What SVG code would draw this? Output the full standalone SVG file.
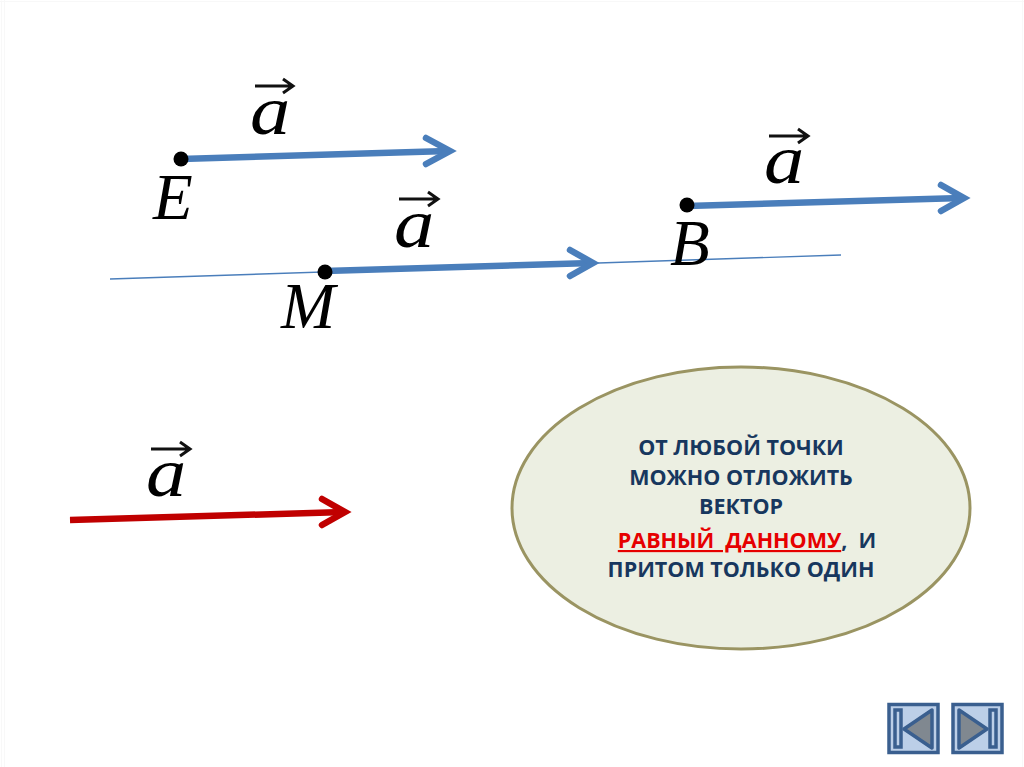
<svg xmlns="http://www.w3.org/2000/svg" width="1024" height="767" viewBox="0 0 1024 767">
<style>
.m{font-family:"Liberation Serif",serif;font-style:italic;fill:#000}
.a{font-size:70px}
.p{font-size:65px}
.v{fill:none;stroke:#4a7ebb;stroke-width:6.5}
.h{fill:none;stroke:#4a7ebb;stroke-width:6.5;stroke-linecap:round}
.r{fill:none;stroke:#c00000;stroke-width:6.5;stroke-linecap:round}
.t{font-family:"Open Sans","Noto Sans",sans-serif;font-weight:700;font-size:21.5px;fill:#17375e;text-anchor:middle}
.b{fill:#bccfe8;stroke:#3a5f8f;stroke-width:3.5}
.g{fill:#808890;stroke:#3a5f8f;stroke-width:3.5;stroke-linejoin:round}
.k{fill:none;stroke:#111;stroke-width:3}
</style>
<rect width="1024" height="767" fill="#fff"/>
<path d="M1.500 .5V767M4.500 0V767M0 1.500H1024M1022.500 0V767" stroke="#f8f8f8" fill="none"/>
<g id="connectors">
<line x1="110" y1="279" x2="841" y2="255" stroke="#4a7ebb" stroke-width="1.400"/>
<line x1="181" y1="159" x2="448" y2="151" class="v"/>
<path d="M426 138L450 151L426 164" class="h"/>
<line x1="325" y1="271" x2="592" y2="263" class="v"/>
<path d="M570 250L593 263L570 276" class="h"/>
<line x1="687" y1="206" x2="962" y2="198" class="v"/>
<path d="M941 185L964 198L941 211" class="h"/>
<line x1="70" y1="520" x2="344" y2="512" class="v" style="stroke:#c00000"/>
<path d="M322 499L345 512L322 525" class="r"/>
</g>
<g id="point-E"><circle cx="181" cy="159" r="7.500"/><text class="m p" x="153" y="219">E</text></g>
<g id="point-M"><circle cx="325" cy="272" r="7.500"/><text class="m p" x="281" y="328">M</text></g>
<g id="point-B"><circle cx="687" cy="205" r="7.500"/><text class="m p" x="670" y="265">B</text></g>
<g id="label-a1"><text class="m a" transform="translate(250 134) scale(1.150 1)">a</text><path class="k" d="M255 86H293M283 79L293 86L283 93"/></g>
<g id="label-a2"><text class="m a" transform="translate(394 247) scale(1.150 1)">a</text><path class="k" d="M399 199H438M428 192L438 199L428 206"/></g>
<g id="label-a3"><text class="m a" transform="translate(764 183) scale(1.150 1)">a</text><path class="k" d="M769 136H808M798 129L808 136L798 143"/></g>
<g id="label-a4"><text class="m a" transform="translate(146 496) scale(1.150 1)">a</text><path class="k" d="M151 449H190M180 442L190 449L180 456"/></g>
<g id="ellipse-note">
<ellipse cx="741" cy="508" rx="229" ry="141" fill="#ecefe2" stroke="#9a9462" stroke-width="3"/>
<text class="t" x="741" y="455">ОТ ЛЮБОЙ ТОЧКИ</text>
<text class="t" x="741" y="485">МОЖНО ОТЛОЖИТЬ</text>
<text class="t" x="741" y="514">ВЕКТОР</text>
<text class="t" x="747" y="548" xml:space="preserve"><tspan fill="#e60000" text-decoration="underline">РАВНЫЙ  ДАННОМУ</tspan>,  И</text>
<text class="t" x="741" y="577">ПРИТОМ ТОЛЬКО ОДИН</text>
</g>
<g id="btn-prev">
<rect class="b" x="889" y="704.500" width="49" height="48"/>
<rect class="b" x="895" y="710" width="6" height="37"/>
<path class="g" d="M904 729L932 710V748Z"/>
</g>
<g id="btn-next">
<rect class="b" x="953" y="704.500" width="49" height="48"/>
<rect class="b" x="990" y="710" width="6" height="37"/>
<path class="g" d="M959 710L987 729L959 748Z"/>
</g>
</svg>
